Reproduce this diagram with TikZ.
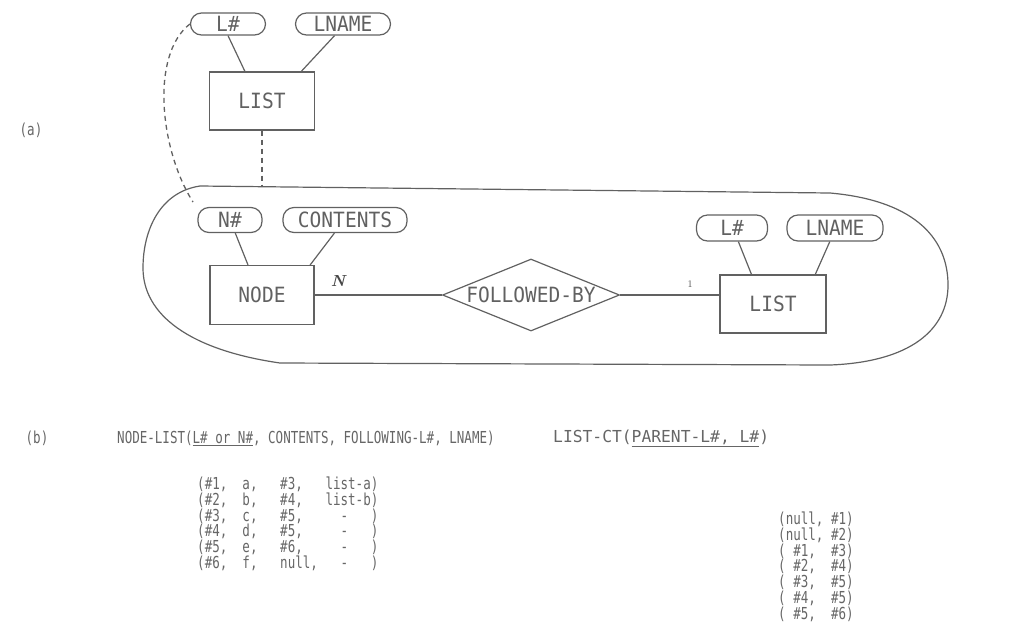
\documentclass[tikz,border=0pt]{standalone}
\usepackage{fontspec}
\newfontfamily\twfont[FakeStretch=0.93]{DejaVu Sans Mono}
\newfontfamily\twnarrow[FakeStretch=0.76]{DejaVu Sans Mono}
\newcommand\diagfont{\twfont\fontsize{21}{24}\selectfont}
\newcommand\tabfontA{\twnarrow\fontsize{16.5}{13.4}\selectfont}
\newcommand\tabfontB{\twnarrow\fontsize{16.5}{14}\selectfont}
\usetikzlibrary{shapes.geometric,calc}
\begin{document}
\begin{tikzpicture}[x=1pt,y=-1pt,
  ln/.style={draw=black!62, line width=1.2pt},
  attr/.style={ln, rounded corners=11pt, inner sep=0pt, text=black!62, font=\diagfont},
  ent/.style={ln, inner sep=0pt, text=black!62, font=\diagfont},
  rel/.style={ln, shape=diamond, aspect=2.5, inner sep=0pt, text=black!62, font=\diagfont},
  txt/.style={inner sep=0pt, text=black!60, font=\tabfontA, align=left},
  dashln/.style={draw=black!62, line width=1.3pt, dash pattern=on 5pt off 4pt}]
\useasboundingbox (0,0) rectangle (1024,630);

% ---------- (a) ----------
\node[txt] (alab) at (31,130) {(a)};

% upper LIST entity
\node[attr, minimum width=75pt, minimum height=22pt] (l1) at (228,24) {L\#};
\node[attr, minimum width=95pt, minimum height=22pt] (ln1) at (343,24) {LNAME};
\node[ent, minimum width=105pt, minimum height=58pt] (list1) at (262,101) {LIST};
\draw[ln] (l1.south) -- (list1.120);
\draw[ln] (ln1.234) -- (list1.37);

% aggregation oval
\draw[ln] (200,186) .. controls (160,192) and (143,230) .. (143,268)
  .. controls (143,315) and (190,350) .. (280,363)
  -- (830,365) .. controls (910,362) and (948,330) .. (948,285)
  .. controls (948,235) and (910,200) .. (830,193) -- cycle;
\coordinate (ovtop) at (262,187);
\coordinate (dend) at (193,202);
\draw[dashln] (list1.south) -- (ovtop);
\draw[dashln] (l1.west) .. controls (150,55) and (160,150) .. (dend);

% NODE entity
\node[attr, minimum width=64pt, minimum height=25pt] (nn) at (230,220) {N\#};
\node[attr, minimum width=124pt, minimum height=25pt] (cont) at (345,220) {CONTENTS};
\node[ent, minimum width=104pt, minimum height=59pt] (node) at (262,295) {NODE};
\draw[ln] (nn.-68) -- (node.115);
\draw[ln] (cont.231) -- (node.32);

% relationship
\node[rel, minimum width=177pt, minimum height=72pt] (fb) at (531,295) {FOLLOWED-BY};
\draw[ln] (node.east |- fb.west) -- (fb.west);
\node[inner sep=0pt, text=black!72, font=\fontsize{16}{16}\selectfont\bfseries\itshape] (nlab) at (338,281) {N};

% lower LIST entity
\node[attr, minimum width=71pt, minimum height=26pt] (l2) at (732,228) {L\#};
\node[attr, minimum width=96pt, minimum height=26pt] (ln2) at (835,228) {LNAME};
\node[ent, minimum width=106pt, minimum height=58pt] (list2) at (773,304) {LIST};
\draw[ln] (l2.-65) -- (list2.126);
\draw[ln] (ln2.249) -- (list2.35);
\draw[ln] (fb.east) -- (fb.east -| list2.west);
\node[inner sep=0pt, text=black!70, font=\fontsize{10}{10}\selectfont] (onelab) at (690,284) {1};

% ---------- (b) ----------
\node[txt] (blab) at (37,438) {(b)};
\node[txt, anchor=west] (hd1) at (117,438)
  {NODE-LIST(\underline{L\# or N\#}, CONTENTS, FOLLOWING-L\#, LNAME)};
\node[txt, anchor=west] (hd2) at (553,438)
  {\scalebox{1.3}[1]{LIST-CT(\underline{PARENT-L\#, L\#})}};

\node[txt, anchor=north west] (tab1) at (197,476.5)
  {(\#1,~~a,~~~\#3,~~~list-a)\\
   (\#2,~~b,~~~\#4,~~~list-b)\\
   (\#3,~~c,~~~\#5,~~~~~-~~~)\\
   (\#4,~~d,~~~\#5,~~~~~-~~~)\\
   (\#5,~~e,~~~\#6,~~~~~-~~~)\\
   (\#6,~~f,~~~null,~~~-~~~)};

\node[txt, anchor=north west, font=\tabfontB] (tab2) at (778,511.5)
  {(null,~\#1)\\
   (null,~\#2)\\
   (~\#1,~~\#3)\\
   (~\#2,~~\#4)\\
   (~\#3,~~\#5)\\
   (~\#4,~~\#5)\\
   (~\#5,~~\#6)};
\end{tikzpicture}
\end{document}
